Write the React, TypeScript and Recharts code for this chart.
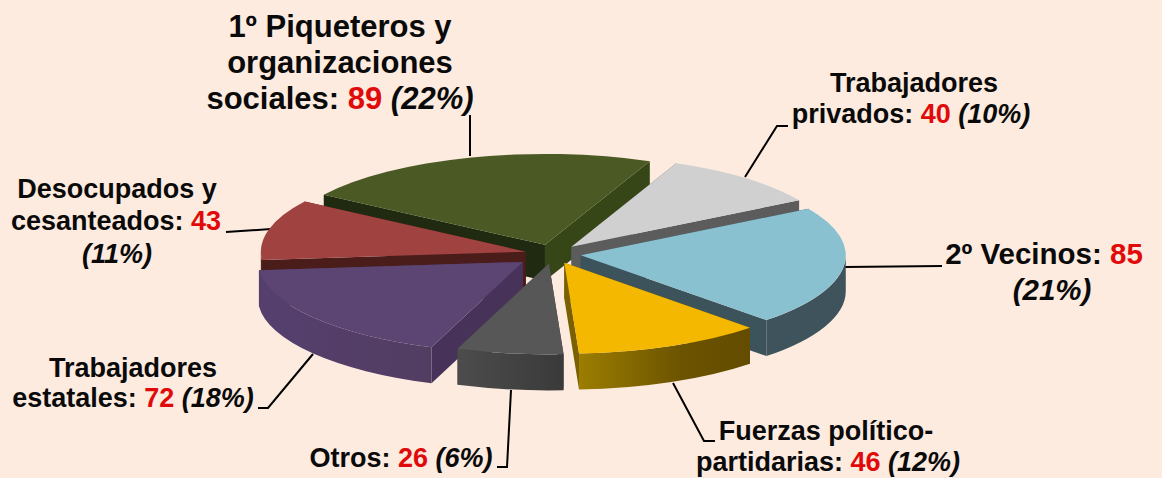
import React from 'react';
import { PieChart, Pie } from 'recharts';

const categories = ['Piqueteros y organizaciones sociales', 'Trabajadores privados', 'Vecinos', 'Fuerzas político-partidarias', 'Otros', 'Trabajadores estatales', 'Desocupados y cesanteados'];
const values = [89, 40, 85, 46, 26, 72, 43];
const percents = [22, 10, 21, 12, 6, 18, 11];

const topColors = ['#4b5a25', '#d0d0d0', '#89c1d0', '#f4b800', '#575757', '#5c4572', '#a04240'];
const startWall = ['#1f2a10', '#5c5c5c', '#3d535b', '#7a6000', '#404040', '#47335a', '#4a1c1a'];
const endWall = ['#374616', '#5c5c5c', '#3d535b', '#7a6000', '#404040', '#47335a', '#4a1c1a'];
const outerWall = ['#374616', '#5c5c5c', '#3e535b', 'url(#wallYellow)', 'url(#wallDark)', 'url(#wallPurple)', '#4a1c1a'];
const explode = [28, 28, 28, 28, 28, 38, 28];
const drawOrder = [0, 1, 6, 2, 5, 3, 4];

const CX = 553;
const CY = 254;
const RX = 265;
const TILT = 0.343;
const DEPTH = 36;
const FONT = '"Liberation Sans", Arial, sans-serif';
const rad = (a: number) => (a * Math.PI) / 180;

const chartData = categories.map((name, i) => ({ name, value: values[i] }));

function makeShape(layer: number) {
  return (p: any) => {
    const i = categories.indexOf(p.name ?? p.payload?.name);
    if (i !== layer) return <g />;
    const mid = (p.startAngle + p.endAngle) / 2;
    const ox = p.cx + explode[i] * Math.cos(rad(mid));
    const oy = p.cy - explode[i] * TILT * Math.sin(rad(mid));
    const r = p.outerRadius;
    const pt = (a: number, d = 0) => [ox + r * Math.cos(rad(a)), oy - r * TILT * Math.sin(rad(a)) + d];
    const arcTo = (a: number, d = 0) => {
      const [x, y] = pt(a, d);
      return `A${r} ${r * TILT} 0 0 1 ${x} ${y}`;
    };
    const [sx, sy] = pt(p.startAngle);
    const [ex, ey] = pt(p.endAngle);
    const large = Math.abs(p.endAngle - p.startAngle) > 180 ? 1 : 0;
    const top = `M${ox} ${oy}L${sx} ${sy}A${r} ${r * TILT} 0 ${large} 1 ${ex} ${ey}Z`;
    const quad = (x: number, y: number) => `M${ox} ${oy}L${x} ${y}L${x} ${y + DEPTH}L${ox} ${oy + DEPTH}Z`;
    const a0 = Math.min(p.startAngle, 0);
    const a1 = Math.max(p.endAngle, -180);
    let wall = '';
    if (a0 > a1) {
      const [wx, wy] = pt(a0);
      const [wx2, wy2] = pt(a1, DEPTH);
      wall = `M${wx} ${wy}${arcTo(a1)}L${wx2} ${wy2}A${r} ${r * TILT} 0 0 0 ${wx} ${wy + DEPTH}Z`;
    }
    return (
      <g>
        <path d={quad(sx, sy)} fill={startWall[i]} />
        <path d={quad(ex, ey)} fill={endWall[i]} />
        {wall && <path d={wall} fill={outerWall[i]} />}
        <path d={top} fill={topColors[i]} />
      </g>
    );
  };
}

const leaders = [
  '470,115 470,156',
  '788,126 777,126 745,177',
  '845,267 942,266',
  '715,441 704,441 673,383',
  '497,467 507,467 511,390',
  '258,408 268,408 313,354',
  '226,232 271,229',
];

const Num = ({ i }: { i: number }) => <tspan fill="#e00a0a">{values[i]}</tspan>;
const Pct = ({ i }: { i: number }) => <tspan fontStyle="italic">({percents[i]}%)</tspan>;

const Labels = () => (
  <g fontFamily={FONT} fontWeight="bold" fill="#0a0a0a">
    {leaders.map((pts) => (
      <polyline key={pts} points={pts} fill="none" stroke="#000" strokeWidth={2} />
    ))}
    <g fontSize={31} textAnchor="middle">
      <text x={340} y={37}>1º Piqueteros y</text>
      <text x={340} y={73}>organizaciones</text>
      <text x={340} y={109}>sociales: <Num i={0} /> <Pct i={0} /></text>
    </g>
    <g fontSize={27} textAnchor="middle">
      <text x={914} y={92}>Trabajadores</text>
      <text x={911} y={123}>privados: <Num i={1} /> <Pct i={1} /></text>
    </g>
    <g fontSize={29.5} textAnchor="middle">
      <text x={1044} y={264}>2º Vecinos: <Num i={2} /></text>
      <text x={1052} y={300}><Pct i={2} /></text>
    </g>
    <g fontSize={27} textAnchor="middle">
      <text x={826} y={440}>Fuerzas político-</text>
      <text x={828} y={471}>partidarias: <Num i={3} /> <Pct i={3} /></text>
    </g>
    <g fontSize={27} textAnchor="middle">
      <text x={401} y={467}>Otros: <Num i={4} /> <Pct i={4} /></text>
    </g>
    <g fontSize={27} textAnchor="middle">
      <text x={133} y={377}>Trabajadores</text>
      <text x={133} y={407}>estatales: <Num i={5} /> <Pct i={5} /></text>
    </g>
    <g fontSize={27} textAnchor="middle">
      <text x={117} y={198}>Desocupados y</text>
      <text x={116} y={230}>cesanteados: <Num i={6} /></text>
      <text x={117} y={263}><Pct i={6} /></text>
    </g>
  </g>
);

export default function App() {
  return (
    <div style={{ position: 'absolute', left: 0, top: 0, width: 1162, height: 478, background: '#fdebdf', overflow: 'hidden' }}>
      <PieChart width={1162} height={478} margin={{ top: 0, right: 0, bottom: 0, left: 0 }}>
        <defs>
          <linearGradient id="wallYellow" x1="0" y1="0" x2="1" y2="0">
            <stop offset="0" stopColor="#9c7d00" />
            <stop offset="0.6" stopColor="#6c5300" />
            <stop offset="1" stopColor="#634c00" />
          </linearGradient>
          <linearGradient id="wallDark" x1="0" y1="0" x2="1" y2="0">
            <stop offset="0" stopColor="#4c4c4c" />
            <stop offset="1" stopColor="#3a3a3a" />
          </linearGradient>
          <linearGradient id="wallPurple" x1="0" y1="0" x2="1" y2="0">
            <stop offset="0" stopColor="#553f6e" />
            <stop offset="1" stopColor="#523d62" />
          </linearGradient>
        </defs>
        <Labels />
        {drawOrder.map((layer) => (
          <Pie
            key={layer}
            data={chartData}
            dataKey="value"
            nameKey="name"
            cx={CX}
            cy={CY}
            innerRadius={0}
            outerRadius={RX}
            startAngle={146.6}
            endAngle={-213.4}
            stroke="none"
            isAnimationActive={false}
            shape={makeShape(layer)}
          />
        ))}
      </PieChart>
    </div>
  );
}
